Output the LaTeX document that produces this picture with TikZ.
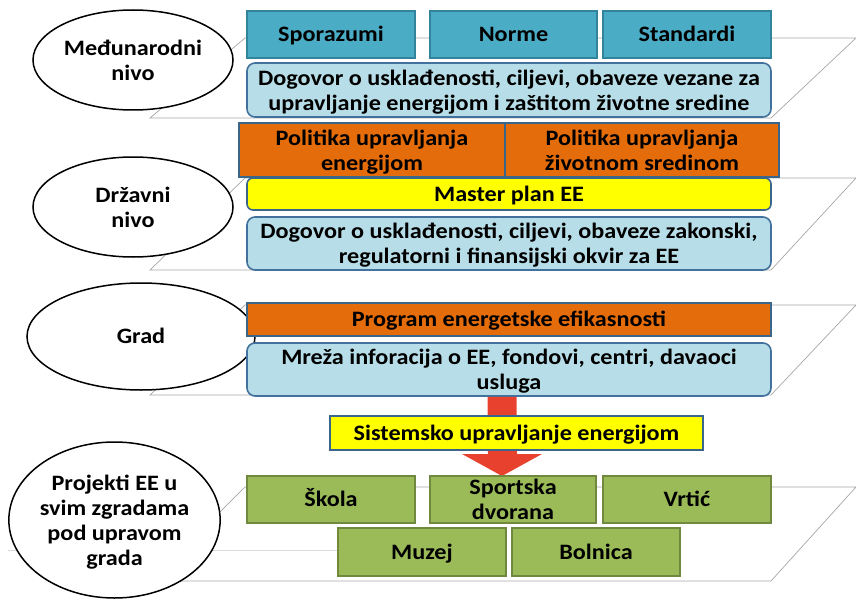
\documentclass[tikz,border=0pt]{standalone}
\usepackage{fontspec}
\setmainfont{Carlito}[FakeStretch=1.1]
\usetikzlibrary{shapes.geometric}
\definecolor{teal1}{HTML}{4BACC6}
\definecolor{tealb}{HTML}{31849B}
\definecolor{lblue}{HTML}{B7DEE8}
\definecolor{dblue}{HTML}{41719C}
\definecolor{orng}{HTML}{E46C0A}
\definecolor{yell}{HTML}{FFFF00}
\definecolor{grn}{HTML}{9BBB59}
\definecolor{grnb}{HTML}{71893F}
\definecolor{redarr}{HTML}{E8412E}
\definecolor{planeg}{HTML}{A6A6A6}
\tikzset{
  txt/.style={font=\fontsize{22}{25}\selectfont\bfseries, align=center, inner sep=0pt, text=black, text depth=0pt},
  one/.style={text height=14pt},
  box/.style={txt, draw, line width=1.6pt, minimum width=#1},
  tealbox/.style={box=#1, fill=teal1, draw=tealb, minimum height=47pt},
  lbbox/.style={box=524pt, fill=lblue, draw=dblue, rounded corners=8pt},
  orbox/.style={box=#1, fill=orng, draw=dblue!90!black},
  yebox/.style={box=#1, fill=yell, draw=dblue!90!black},
  grbox/.style={box=#1, fill=grn, draw=grnb, minimum height=47pt},
  lvl/.style={txt, ellipse, draw=black, line width=1.5pt, fill=white},
  plane/.style={draw=planeg, line width=0.7pt},
}
\begin{document}
\begin{tikzpicture}[x=1pt,y=-1pt]
\useasboundingbox (0,0) rectangle (856,599);
% planes
\foreach \t/\b in {38/118, 178/270, 305/395, 487/581}{
  \draw[plane] (245,\t) -- (856,\t) -- (771,\b) -- (150,\b) -- cycle;
}
\draw[draw=planeg!40, line width=0.6pt] (8,550) -- (340,550);
% level ellipses
\node[lvl, minimum width=200pt, minimum height=100pt] (e1) at (133,60) {Međunarodni\\nivo};
\node[lvl, minimum width=200pt, minimum height=100pt] (e2) at (133,207) {Državni\\nivo};
\node[lvl, one, minimum width=228pt, minimum height=107pt] (e3) at (141,336.5) {Grad};
\node[lvl, minimum width=207pt, minimum height=156pt] (e4) at (114.5,520) {Projekti EE u\\svim zgradama\\pod upravom\\grada};
% level 1
\node[tealbox=168pt, one] (spor) at (331,34.5) {Sporazumi};
\node[tealbox=167pt, one] (norme) at (513.5,34.5) {Norme};
\node[tealbox=168pt, one] (stand) at (687,34.5) {Standardi};
\node[lbbox, minimum height=54pt] (dog1) at (509,90) {Dogovor o usklađenosti, ciljevi, obaveze vezane za\\upravljanje energijom i zaštitom životne sredine};
% level 2
\node[orbox=266pt, minimum height=54pt] (pol1) at (372,150) {Politika upravljanja\\energijom};
\node[orbox=274pt, minimum height=54pt] (pol2) at (642,150) {Politika upravljanja\\životnom sredinom};
\node[yebox=524pt, one, minimum height=32pt, rounded corners=6pt] (master) at (509,194) {Master plan EE};
\node[lbbox, minimum height=53pt] (dog2) at (509,243.5) {Dogovor o usklađenosti, ciljevi, obaveze zakonski,\\regulatorni i finansijski okvir za EE};
% level 3
\node[orbox=524pt, one, minimum height=33pt] (prog) at (509,319.5) {Program energetske efikasnosti};
\node[lbbox, minimum height=53pt] (mreza) at (509,369.5) {Mreža inforacija o EE, fondovi, centri, davaoci\\usluga};
% red arrow
\fill[redarr] ([xshift=-14.5pt]mreza.south -| 502,0) -- ++(29,0) -- (517,454) -- (542,454) -- (502,476) -- (462,454) -- (488,454) -- cycle;
\node[yebox=373pt, one, minimum height=34pt] (sist) at (516.5,433) {Sistemsko upravljanje energijom};
% level 4
\node[grbox=168pt, one] (skola) at (331,499.5) {Škola};
\node[grbox=166pt] (sport) at (513,499.5) {Sportska\\dvorana};
\node[grbox=168pt, one] (vrtic) at (687,499.5) {Vrtić};
\node[grbox=168pt, one, minimum height=48pt] (muzej) at (422,552) {Muzej};
\node[grbox=168pt, one, minimum height=48pt] (boln) at (596,552) {Bolnica};
\end{tikzpicture}
\end{document}
